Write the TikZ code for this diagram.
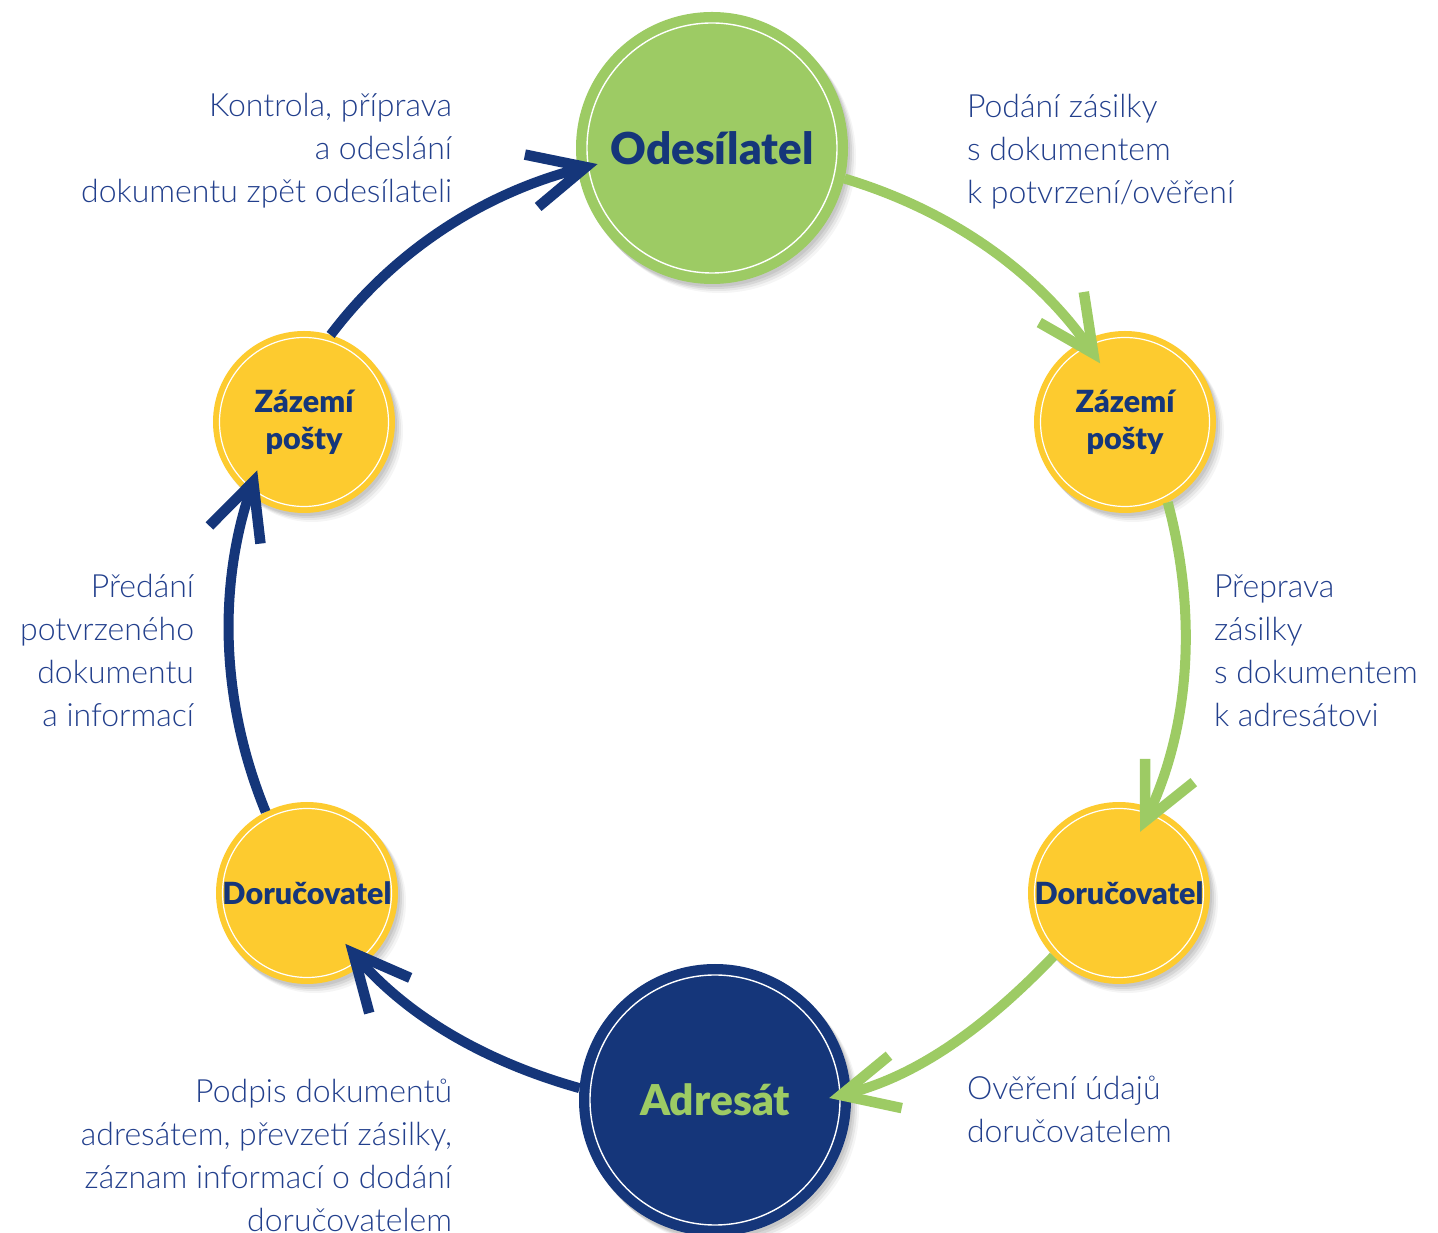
\documentclass[tikz,border=0pt]{standalone}
\usepackage{fontspec}
\setmainfont{Lato}
\newfontfamily\lightfont{Lato Light}
\newfontfamily\heavyfont{Lato Black}
\usetikzlibrary{arrows.meta,shadows,calc}
\definecolor{cgreen}{HTML}{9DCB64}
\definecolor{cyellow}{HTML}{FDCB2F}
\definecolor{cnavy}{HTML}{15367A}
\definecolor{ctext}{HTML}{223F8C}
\tikzset{
  softshadow/.style={
    drop shadow={shadow xshift=2pt,shadow yshift=-3pt,opacity=.07,fill=black},
    drop shadow={shadow xshift=4pt,shadow yshift=-5pt,opacity=.07,fill=black},
    drop shadow={shadow xshift=6pt,shadow yshift=-7pt,opacity=.06,fill=black},
    drop shadow={shadow xshift=8pt,shadow yshift=-9pt,opacity=.04,fill=black}},
  bigbubble/.style={circle,inner sep=0pt,outer sep=0pt,minimum size=272pt,fill=#1,softshadow,
    path picture={\draw[white,line width=1.4pt] (path picture bounding box.center) circle[radius=125pt];}},
  smallbubble/.style={circle,inner sep=0pt,outer sep=0pt,minimum size=182pt,fill=cyellow,softshadow,
    align=center,text=cnavy,font=\heavyfont\fontsize{30.5}{37}\selectfont,
    path picture={\draw[white,line width=1.2pt] (path picture bounding box.center) circle[radius=84.5pt];}},
  flow/.style={line width=10pt,looseness=0.9,-{Straight Barb[length=56pt,width=54pt,line width=10.5pt]}},
  gflow/.style={flow,draw=cgreen},
  bflow/.style={flow,draw=cnavy},
  lbl/.style={inner sep=0pt,outer sep=0pt,text=ctext},
}
\newcommand{\lblfont}{\lightfont\fontsize{32}{43}\selectfont}
\begin{document}
\begin{tikzpicture}[x=1pt,y=1pt]
\useasboundingbox (0,0) rectangle (1438,1232);
% circles
\node[bigbubble=cgreen,text=cnavy,font=\heavyfont\fontsize{44}{50}\selectfont] (ode) at (712,1084) {Odesílatel};
\node[smallbubble] (zr) at (1125,810) {Zázemí\\pošty};
\node[smallbubble] (dr) at (1119,339) {Doručovatel};
\node[bigbubble=cnavy,text=cgreen,font=\heavyfont\fontsize{42.5}{50}\selectfont] (adr) at (715,132) {Adresát};
\node[smallbubble] (dl) at (307,339) {Doručovatel};
\node[smallbubble] (zl) at (304,810) {Zázemí\\pošty};
% connectors
\draw[gflow] (ode.-13) to[out=-16.7,in=124.5] ($(zr)!0.70!(zr.113)$);
\draw[gflow] (zr.-62) to[out=-75.1,in=64.4] ($(dr)!0.71!(dr.71)$);
\draw[gflow] (dr.-136) to[out=-133.8,in=13.7] ($(adr)!0.84!(adr.1.5)$);
\draw[bflow] (adr.175) to[out=164.3,in=-49.3] ($(dl)!0.70!(dl.-53.8)$);
\draw[bflow] (dl.117) to[out=112.3,in=250.9] ($(zl)!0.74!(zl.-134.4)$);
\draw[bflow] (zl.73) to[out=52.9,in=194.2] ($(ode)!0.85!(ode.188.4)$);
% labels
\node[lbl,anchor=base east] (t1) at (452,1115) {\lblfont\begin{tabular}[t]{@{}r@{}}Kontrola, příprava\\a odeslání\\dokumentu zpět odesílateli\end{tabular}};
\node[lbl,anchor=base west] (t2) at (967,1114) {\lblfont\begin{tabular}[t]{@{}l@{}}Podání zásilky\\s dokumentem\\k potvrzení/ověření\end{tabular}};
\node[lbl,anchor=base west] (t3) at (1214,634) {\lblfont\begin{tabular}[t]{@{}l@{}}Přeprava\\zásilky\\s dokumentem\\k adresátovi\end{tabular}};
\node[lbl,anchor=base west] (t4) at (967,132) {\lblfont\begin{tabular}[t]{@{}l@{}}Ověření údajů\\doručovatelem\end{tabular}};
\node[lbl,anchor=base east] (t5) at (452,129) {\lblfont\begin{tabular}[t]{@{}r@{}}Podpis dokumentů\\adresátem, převzetí zásilky,\\záznam informací o dodání\\doručovatelem\end{tabular}};
\node[lbl,anchor=base east] (t6) at (194,634) {\lblfont\begin{tabular}[t]{@{}r@{}}Předání\\potvrzeného\\dokumentu\\a informací\end{tabular}};
\end{tikzpicture}
\end{document}
